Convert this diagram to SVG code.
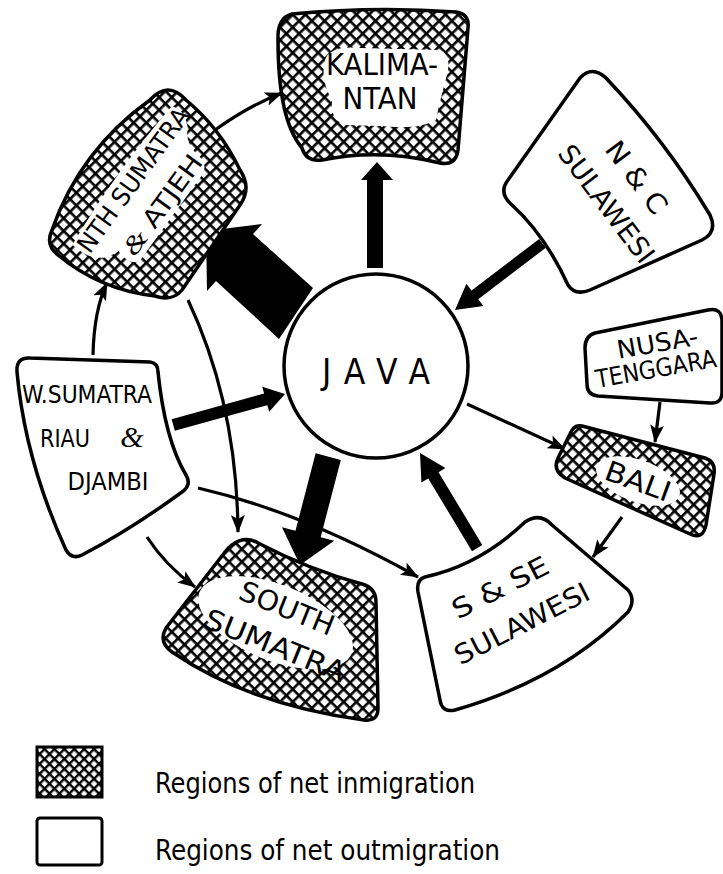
<svg xmlns="http://www.w3.org/2000/svg" width="723" height="874" viewBox="0 0 723 874">
<defs>
<pattern id="hatch" patternUnits="userSpaceOnUse" width="9" height="9" patternTransform="rotate(45)">
<rect width="9" height="9" fill="#fff"/>
<rect width="9" height="2.6" fill="#000"/>
<rect width="2.6" height="9" fill="#000"/>
</pattern>
<pattern id="hatch2" patternUnits="userSpaceOnUse" width="7" height="7" patternTransform="rotate(45)">
<rect width="7" height="7" fill="#fff"/>
<rect width="7" height="2.4" fill="#000"/>
<rect width="2.4" height="7" fill="#000"/>
</pattern>
<marker id="ah" markerUnits="userSpaceOnUse" markerWidth="18" markerHeight="14" viewBox="0 0 18 14" refX="17" refY="7" orient="auto">
<path d="M0,0 L18,7 L0,14 L4,7 Z" fill="#000"/>
</marker>
</defs>
<style>
.node{stroke:#000;stroke-width:3.5;stroke-linejoin:round}
.hatched{fill:url(#hatch)}
.plain{fill:#fff}
.lbl{font-family:"DejaVu Sans Condensed","Liberation Sans Narrow","DejaVu Sans",sans-serif;fill:#000;text-anchor:middle}
.amp{font-family:"Liberation Serif",serif;font-style:italic}
.thin{fill:none;stroke:#000;stroke-width:3.2;marker-end:url(#ah)}
.blk{fill:#000}
.blob{fill:#fff}
.leg{font-family:"DejaVu Sans Condensed","Liberation Sans Narrow","DejaVu Sans",sans-serif;fill:#000;font-size:28px}
</style>
<rect width="723" height="874" fill="#fff"/>

<g id="connectors">
<path class="thin" d="M467,404 L565,449"/>
<path class="thin" d="M660,402 L655,442"/>
<path class="thin" d="M622,517 L593,557"/>
<path class="thin" d="M198,488 Q302,512 418,577"/>
<path class="thin" d="M147,537 Q165,565 195,587"/>
<path class="thin" d="M93,355 Q94,310 107,283"/>
<path class="thin" d="M215,130 Q250,105 282,93"/>
<path class="thin" d="M188,300 Q237,404 238,532"/>
<polygon class="blk" points="367,268 383,268 383,180 393,180 377,162 361,180 367,180"/>
<polygon class="blk" points="206,231 262,224 253,234 313,288 279,339 216,281 207,291"/>
<polygon class="blk" transform="translate(455,310) rotate(142.7)" points="0,0 -25,-14 -25,-5.5 -110,-5.5 -110,5.5 -25,5.5 -25,14"/>
<polygon class="blk" transform="translate(285,394) rotate(-15.5)" points="0,0 -20,-13 -20,-6 -116,-6 -116,6 -20,6 -20,13"/>
<polygon class="blk" transform="translate(300,565) rotate(104.6)" points="0,0 -32,-27 -32,-13 -112,-13 -112,13 -32,13 -32,27"/>
<polygon class="blk" transform="translate(420,453) rotate(-121)" points="0,0 -26,-14 -26,-6 -111,-6 -111,6 -26,6 -26,14"/>
</g>

<g id="java">
<circle class="node plain" cx="376" cy="366" r="92" stroke-width="3"/>
<text class="lbl" x="376" y="384" font-size="35" textLength="108" lengthAdjust="spacing">JAVA</text>
</g>

<g id="kalimantan">
<path class="node hatched" d="M292,14 Q375,6 456,12 Q470,14 468,28 L458,150 Q456,166 440,163 Q380,148 322,160 Q306,162 302,148 Q278,120 278,40 Q277,18 292,14 Z"/>
<path class="blob" d="M325,60 Q330,45 360,48 L440,50 Q452,55 447,75 Q440,100 436,120 Q420,130 380,126 L345,125 Q330,120 332,100 Q320,80 325,60 Z"/>
<text class="lbl" x="382" y="75" font-size="30" textLength="112" lengthAdjust="spacingAndGlyphs">KALIMA-</text>
<text class="lbl" x="380" y="109" font-size="30" textLength="75" lengthAdjust="spacingAndGlyphs">NTAN</text>
</g>

<g id="nth-sumatra">
<path class="node hatched" d="M150,100 Q168,80 186,100 Q220,128 240,170 Q252,188 240,205 L182,290 Q172,302 155,296 Q100,290 58,255 Q45,245 52,230 Q80,150 150,100 Z"/>
<g transform="translate(133,180) rotate(-54)">
<path class="blob" d="M-88,-11 Q0,-19 82,-12 Q88,0 74,14 Q60,20 58,40 Q56,54 40,53 L-60,53 Q-72,50 -66,30 Q-92,22 -88,-11 Z"/>
<text class="lbl" x="0" y="9" font-size="25" textLength="172" lengthAdjust="spacingAndGlyphs">NTH SUMATRA</text>
<text class="lbl" x="-3" y="47" font-size="25" textLength="118" lengthAdjust="spacingAndGlyphs"><tspan class="amp">&amp;</tspan> ATJEH</text>
</g>
</g>

<g id="nc-sulawesi">
<path class="node plain" d="M580,78 Q592,65 606,78 Q665,140 710,215 Q718,232 702,240 L590,290 Q575,296 568,285 Q545,235 512,205 Q498,193 508,180 L580,78 Z" stroke-width="3"/>
<g transform="translate(637,177) rotate(53)">
<text class="lbl" x="0" y="10" font-size="27" textLength="84" lengthAdjust="spacingAndGlyphs">N &amp; C</text>
<text class="lbl" x="3" y="50" font-size="27" textLength="140" lengthAdjust="spacingAndGlyphs">SULAWESI</text>
</g>
</g>

<g id="nusa-tenggara">
<path class="node plain" d="M595,333 L708,310 Q722,307 722,322 L722,392 Q722,404 710,403 L598,396 Q587,395 587,384 L585,348 Q585,336 595,333 Z" stroke-width="3"/>
<g transform="translate(657,352) rotate(-10)">
<text class="lbl" x="2" y="0" font-size="25" textLength="82" lengthAdjust="spacingAndGlyphs">NUSA-</text>
<text class="lbl" x="-4" y="25" font-size="25" textLength="122" lengthAdjust="spacingAndGlyphs">TENGGARA</text>
</g>
</g>

<g id="bali">
<path class="node hatched" d="M582,426 L705,458 Q716,462 714,474 L706,525 Q703,540 690,534 L565,478 Q552,470 558,458 L570,434 Q574,424 582,426 Z"/>
<g transform="translate(638,481) rotate(20)">
<ellipse class="blob" cx="0" cy="0" rx="44" ry="21"/>
<text class="lbl" x="0" y="10" font-size="28" textLength="68" lengthAdjust="spacingAndGlyphs">BALI</text>
</g>
</g>

<g id="s-se-sulawesi">
<path class="node plain" d="M425,577 Q480,565 525,522 Q540,512 552,525 L628,590 Q636,600 628,612 Q560,680 455,710 Q442,713 440,700 L418,592 Q416,580 425,577 Z" stroke-width="3"/>
<g transform="translate(500,587) rotate(-27)">
<text class="lbl" x="0" y="10" font-size="27" textLength="105" lengthAdjust="spacingAndGlyphs">S &amp; SE</text>
<text class="lbl" x="3" y="52" font-size="27" textLength="148" lengthAdjust="spacingAndGlyphs">SULAWESI</text>
</g>
</g>

<g id="south-sumatra">
<path class="node hatched" d="M232,545 Q245,535 258,543 Q310,570 362,584 Q376,588 376,602 L378,708 Q378,722 364,720 Q250,705 172,652 Q158,642 166,628 L225,552 Q228,548 232,545 Z"/>
<g transform="translate(287,608) rotate(22)">
<ellipse class="blob" cx="-5" cy="18" rx="82" ry="38"/>
<text class="lbl" x="0" y="10" font-size="28" textLength="100" lengthAdjust="spacingAndGlyphs">SOUTH</text>
<text class="lbl" x="3" y="49" font-size="28" textLength="150" lengthAdjust="spacingAndGlyphs">SUMATRA</text>
</g>
</g>

<g id="w-sumatra">
<path class="node plain" d="M30,358 L150,362 Q158,363 158,372 Q165,440 186,475 Q192,485 182,492 Q130,530 82,555 Q72,560 66,550 Q25,460 17,372 Q16,357 30,358 Z" stroke-width="3"/>
<text class="lbl" x="87" y="403" font-size="24" textLength="130" lengthAdjust="spacingAndGlyphs">W.SUMATRA</text>
<text class="lbl" x="65" y="447" font-size="24" textLength="50" lengthAdjust="spacingAndGlyphs">RIAU</text>
<text class="lbl amp" x="132" y="447" font-size="30">&amp;</text>
<text class="lbl" x="108" y="490" font-size="24" textLength="81" lengthAdjust="spacingAndGlyphs">DJAMBI</text>
</g>

<g id="legend">
<rect x="37" y="747" width="65" height="50" fill="url(#hatch2)" stroke="#000" stroke-width="3"/>
<rect x="37" y="818" width="65" height="47" rx="3" fill="#fff" stroke="#000" stroke-width="3"/>
<text class="leg" x="155" y="793" textLength="320" lengthAdjust="spacingAndGlyphs">Regions of net inmigration</text>
<text class="leg" x="155" y="860" textLength="345" lengthAdjust="spacingAndGlyphs">Regions of net outmigration</text>
</g>
</svg>
